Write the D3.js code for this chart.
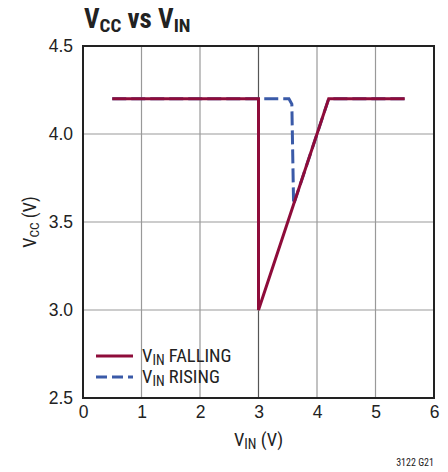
<!DOCTYPE html>
<html>
<head>
<meta charset="utf-8">
<script src="https://cdn.jsdelivr.net/npm/d3@7"></script>
<style>
  body { margin: 0; background: #fff; }
  text { font-family: "Liberation Sans Narrow", "Roboto Condensed", "DejaVu Sans Condensed", sans-serif; fill: #222; }
</style>
</head>
<body>
<svg id="chart" width="448" height="472"></svg>
<script>
'use strict'

// data
const xTicks = [0, 1, 2, 3, 4, 5, 6]
const yTicks = [2.5, 3.0, 3.5, 4.0, 4.5]
const fallingVin = [0.5, 3.0, 3.0, 4.2, 5.5]
const fallingVcc = [4.2, 4.2, 3.0, 4.2, 4.2]
const risingVin = [0.5, 3.52, 3.57, 3.6, 4.2, 5.5]
const risingVcc = [4.2, 4.2, 4.17, 3.6, 4.2, 4.2]

const margin = { top: 46, right: 14, bottom: 74, left: 83 }
const width = 448
const height = 472
const innerW = width - margin.left - margin.right
const innerH = height - margin.top - margin.bottom

const svg = d3.select('#chart')
const g = svg.append('g').attr('transform', `translate(${margin.left},${margin.top})`)

const x = d3.scaleLinear().domain([0, 6]).range([0, innerW])
const y = d3.scaleLinear().domain([2.5, 4.5]).range([innerH, 0])

// grid
g.append('g')
  .selectAll('line')
  .data(xTicks.slice(1, -1))
  .enter().append('line')
  .attr('x1', d => x(d)).attr('x2', d => x(d))
  .attr('y1', 0).attr('y2', innerH)
  .attr('stroke', d => d === 3 ? '#555' : '#999')
  .attr('stroke-width', 1.2)

g.append('g')
  .selectAll('line')
  .data(yTicks.slice(1, -1))
  .enter().append('line')
  .attr('x1', 0).attr('x2', innerW)
  .attr('y1', d => y(d)).attr('y2', d => y(d))
  .attr('stroke', '#999')
  .attr('stroke-width', 1.2)

// frame
g.append('rect')
  .attr('width', innerW).attr('height', innerH)
  .attr('fill', 'none').attr('stroke', '#222').attr('stroke-width', 2)

// axes tick labels
const xAxis = d3.axisBottom(x).tickValues(xTicks).tickSize(0).tickPadding(8).tickFormat(d3.format('d'))
const yAxis = d3.axisLeft(y).tickValues(yTicks).tickSize(0).tickPadding(10).tickFormat(d3.format('.1f'))

g.append('g').attr('transform', `translate(0,${innerH})`).call(xAxis)
  .call(a => a.select('.domain').remove())
  .selectAll('text').attr('font-size', 17.5).attr('fill', '#222')
  .style('font-family', '"Liberation Sans Narrow", sans-serif')

g.append('g').call(yAxis)
  .call(a => a.select('.domain').remove())
  .selectAll('text').attr('font-size', 17.5).attr('fill', '#222')
  .style('font-family', '"Liberation Sans Narrow", sans-serif')

// curves
const line = d3.line().x(d => x(d[0])).y(d => y(d[1]))

g.append('path')
  .datum(d3.zip(risingVin, risingVcc))
  .attr('d', line)
  .attr('fill', 'none')
  .attr('stroke', '#3a5aa8')
  .attr('stroke-width', 3)
  .attr('stroke-dasharray', '14,5')

g.append('path')
  .datum(d3.zip(fallingVin, fallingVcc))
  .attr('d', line)
  .attr('fill', 'none')
  .attr('stroke', '#8e0c3a')
  .attr('stroke-width', 3)

// legend
const legend = g.append('g').attr('transform', 'translate(13,310)')
const legendItems = [
  { label: 'FALLING', color: '#8e0c3a', dash: null },
  { label: 'RISING', color: '#3a5aa8', dash: '11,5' }
]
legendItems.forEach((item, i) => {
  const row = legend.append('g').attr('transform', `translate(0,${i * 21})`)
  row.append('line')
    .attr('x1', 0).attr('x2', 37).attr('y1', 0).attr('y2', 0)
    .attr('stroke', item.color).attr('stroke-width', 3)
    .attr('stroke-dasharray', item.dash)
  const t = row.append('text').attr('x', 46).attr('y', 6).attr('font-size', 18.5)
  t.append('tspan').text('V')
  t.append('tspan').text('IN').attr('font-size', 14).attr('dy', 3)
  t.append('tspan').text(' ' + item.label).attr('dy', -3)
})

// axis titles
const xt = svg.append('text')
  .attr('x', margin.left + x(3)).attr('y', 446)
  .attr('text-anchor', 'middle').attr('font-size', 18.5)
xt.append('tspan').text('V')
xt.append('tspan').text('IN').attr('font-size', 14).attr('dy', 3)
xt.append('tspan').text(' (V)').attr('dy', -3)

const yt = svg.append('text')
  .attr('transform', `translate(36,${margin.top + y(3.5)}) rotate(-90)`)
  .attr('text-anchor', 'middle').attr('font-size', 18)
yt.append('tspan').text('V')
yt.append('tspan').text('CC').attr('font-size', 13.5).attr('dy', 3)
yt.append('tspan').text(' (V)').attr('dy', -3)

// title
const title = svg.append('text')
  .attr('x', 84).attr('y', 28)
  .attr('font-size', 27).attr('font-weight', 'bold')
title.append('tspan').text('V')
title.append('tspan').text('CC').attr('font-size', 19).attr('dy', 4)
title.append('tspan').text(' vs V').attr('dy', -4)
title.append('tspan').text('IN').attr('font-size', 19).attr('dy', 4)

svg.append('text')
  .attr('x', 434).attr('y', 466)
  .attr('text-anchor', 'end').attr('font-size', 10)
  .text('3122 G21')
</script>
</body>
</html>
